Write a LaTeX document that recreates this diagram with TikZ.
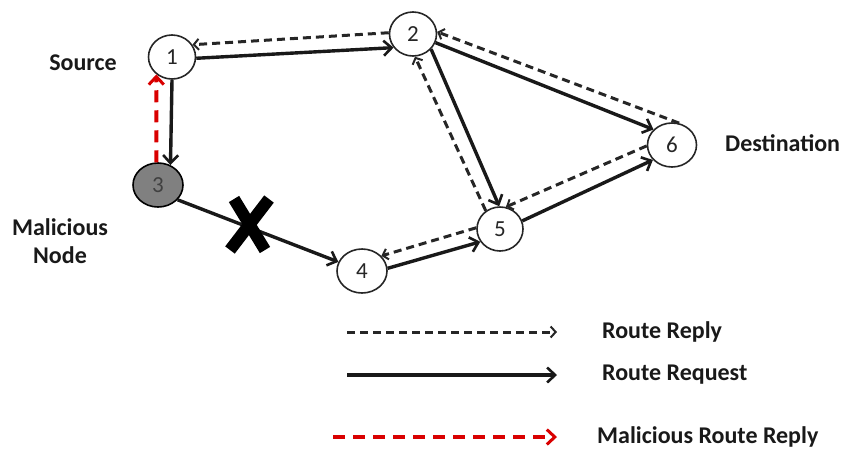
\documentclass[tikz,border=0pt]{standalone}
\usepackage{fontspec}
\setmainfont{Carlito}
\usetikzlibrary{arrows.meta,shapes.geometric}
\begin{document}
\begin{tikzpicture}[x=1pt,y=-1pt,
  netnode/.style={draw=black!85,line width=1.6pt,ellipse,inner sep=0pt,
    minimum width=47pt,minimum height=44pt,fill=white,text=black!85,
    font=\fontsize{23}{25}\selectfont},
  badnode/.style={netnode,fill=black!50,text=black!75,draw=black},
  lbl/.style={font=\fontsize{24}{27}\selectfont\bfseries,text=black!90,inner sep=0pt},
  req/.style={line width=3.4pt,black!90,-{Straight Barb[length=8pt,width=15pt,line width=2.6pt]}},
  rep/.style={line width=3pt,black!85,dash pattern=on 8pt off 5pt,
    -{Straight Barb[length=5pt,width=11pt,line width=2pt]}},
  badrep/.style={line width=4pt,red!85!black,dash pattern=on 12pt off 8pt,
    -{Straight Barb[length=8pt,width=15pt,line width=3pt]}},
]
\useasboundingbox (0,0) rectangle (851,459);

% nodes of the network
\node[netnode] (n1) at (172,57) {1};
\node[netnode] (n2) at (413,34) {2};
\node[badnode,minimum width=50pt] (n3) at (158,185) {3};
\node[netnode,minimum width=50pt] (n4) at (362,271) {4};
\node[netnode,minimum width=46pt] (n5) at (500,229) {5};
\node[netnode,minimum width=49pt] (n6) at (672,145) {6};

% node captions
\node[lbl] (src) at (83,63) {Source};
\node[lbl,align=center,font=\fontsize{24}{28}\selectfont\bfseries] (mal) at (60,241) {Malicious\\Node};
\node[lbl,anchor=west] (dst) at (725,143) {Destination};

% route requests
\draw[req] (n1.-3) -- (n2.215);
\draw[req] (n1.-90) -- (n3.58);
\draw[req] (n3.-37) -- (n4.159);
\draw[req] (n4.6) -- (n5.213);
\draw[req] (n2.-40) -- (n5.92);
\draw[req] (n2.-21) -- (n6.140);
\draw[req] (n5.20) -- (n6.218);

% route replies
\draw[rep] (n2.177) -- (n1.31);
\draw[rep] (n6.72) -- (n2.5);
\draw[rep] (n6.182) -- (n5.75);
\draw[rep] (n5.128) -- (n2.-85);
\draw[rep] (n5.177) -- (n4.38);

% forged reply from the malicious node
\draw[badrep] (n3.94) -- (n1.228);

% broken link marker
\draw[line width=12pt,black] (234,199) -- (265,250) (269,199) -- (230,250);

% legend
\coordinate (la1) at (347,332); \coordinate (la2) at (557,332);
\coordinate (lb1) at (347,375); \coordinate (lb2) at (557,375);
\coordinate (lc1) at (333,437); \coordinate (lc2) at (557,437);
\draw[rep] (la1) -- (la2);
\draw[req] (lb1) -- (lb2);
\draw[badrep] (lc1) -- (lc2);
\node[lbl,anchor=west] (tla) at (602,332) {Route Reply};
\node[lbl,anchor=west] (tlb) at (602,375) {Route Request};
\node[lbl,anchor=west] (tlc) at (597,437) {Malicious Route Reply};
\end{tikzpicture}
\end{document}
